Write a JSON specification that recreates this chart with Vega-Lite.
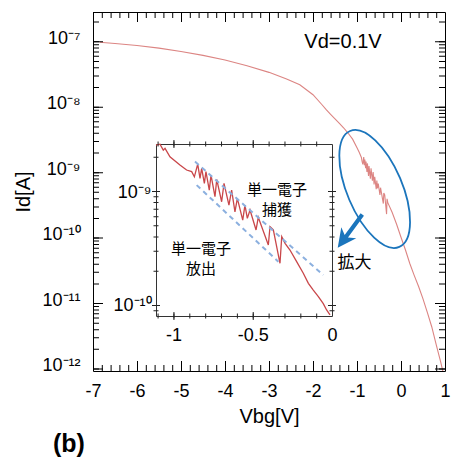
{
  "$schema": "https://vega.github.io/schema/vega-lite/v6.json",
  "width": 352,
  "height": 359,
  "autosize": {"type": "none"},
  "padding": {"left": 93, "top": 12, "right": 6, "bottom": 90},
  "background": "white",
  "config": {
    "view": {"stroke": null},
    "axis": {"domainColor": "#000", "labelColor": "#000", "titleColor": "#000", "labelFont": "Liberation Sans", "titleFont": "Liberation Sans", "titleFontWeight": "normal", "grid": false, "labelOverlap": false, "labelFlush": false, "labelBound": false, "domainWidth": 1}
  },
  "title": {"text": "(b)", "orient": "bottom", "anchor": "start", "frame": "group", "fontSize": 25, "fontWeight": "bold", "font": "Liberation Sans", "color": "#000", "dx": -40, "offset": 6},
  "datasets": {
    "main": [
      {"Vbg": -6.85, "Id": 1.0e-7}, {"Vbg": -6.5, "Id": 9.55e-8}, {"Vbg": -6.0, "Id": 8.91e-8}, {"Vbg": -5.5, "Id": 8.13e-8},
      {"Vbg": -5.0, "Id": 7.24e-8}, {"Vbg": -4.5, "Id": 6.31e-8}, {"Vbg": -4.0, "Id": 5.37e-8}, {"Vbg": -3.5, "Id": 4.37e-8},
      {"Vbg": -3.0, "Id": 3.47e-8}, {"Vbg": -2.6, "Id": 2.75e-8}, {"Vbg": -2.3, "Id": 2.24e-8}, {"Vbg": -2.0, "Id": 1.58e-8},
      {"Vbg": -1.8, "Id": 1.12e-8}, {"Vbg": -1.7, "Id": 9.33e-9}, {"Vbg": -1.6, "Id": 7.94e-9}, {"Vbg": -1.5, "Id": 6.76e-9},
      {"Vbg": -1.4, "Id": 5.75e-9}, {"Vbg": -1.3, "Id": 4.9e-9}, {"Vbg": -1.2, "Id": 4.07e-9}, {"Vbg": -1.1, "Id": 3.31e-9},
      {"Vbg": -1.0, "Id": 2.45e-9}, {"Vbg": -0.95, "Id": 2.09e-9}, {"Vbg": -0.9, "Id": 1.74e-9},
      {"Vbg": -0.885, "Id": 1.51e-9}, {"Vbg": -0.868, "Id": 1.36e-9}, {"Vbg": -0.847, "Id": 1.76e-9}, {"Vbg": -0.8325, "Id": 1.32e-9},
      {"Vbg": -0.822, "Id": 1.61e-9}, {"Vbg": -0.805, "Id": 1.19e-9}, {"Vbg": -0.795, "Id": 1.51e-9}, {"Vbg": -0.774, "Id": 1.04e-9},
      {"Vbg": -0.763, "Id": 1.41e-9}, {"Vbg": -0.738, "Id": 9.1e-10}, {"Vbg": -0.727, "Id": 1.29e-9}, {"Vbg": -0.696, "Id": 8.22e-10},
      {"Vbg": -0.681, "Id": 1.19e-9}, {"Vbg": -0.65, "Id": 7.69e-10}, {"Vbg": -0.633, "Id": 1.04e-9}, {"Vbg": -0.612, "Id": 6.71e-10},
      {"Vbg": -0.597, "Id": 8.79e-10}, {"Vbg": -0.563, "Id": 5.68e-10}, {"Vbg": -0.549, "Id": 7.69e-10}, {"Vbg": -0.534, "Id": 5.87e-10},
      {"Vbg": -0.517, "Id": 6.95e-10}, {"Vbg": -0.479, "Id": 4.65e-10}, {"Vbg": -0.465, "Id": 6.0e-10}, {"Vbg": -0.4015, "Id": 3.43e-10},
      {"Vbg": -0.391, "Id": 4.97e-10}, {"Vbg": -0.37, "Id": 4.65e-10}, {"Vbg": -0.328, "Id": 2.37e-10}, {"Vbg": -0.317, "Id": 4.06e-10},
      {"Vbg": -0.3, "Id": 3.55e-10}, {"Vbg": -0.2, "Id": 2.51e-10}, {"Vbg": -0.1, "Id": 1.66e-10}, {"Vbg": 0.0, "Id": 1.05e-10},
      {"Vbg": 0.1, "Id": 6.76e-11}, {"Vbg": 0.2, "Id": 4.17e-11}, {"Vbg": 0.3, "Id": 2.75e-11}, {"Vbg": 0.4, "Id": 1.86e-11},
      {"Vbg": 0.5, "Id": 1.2e-11}, {"Vbg": 0.6, "Id": 7.41e-12}, {"Vbg": 0.7, "Id": 4.47e-12}, {"Vbg": 0.8, "Id": 2.4e-12},
      {"Vbg": 0.9, "Id": 1.32e-12}, {"Vbg": 0.96, "Id": 8.9e-13}
    ],
    "inset": [
      {"Vbg": -1.11, "Id": 2.58e-9}, {"Vbg": -1.085, "Id": 2.63e-9}, {"Vbg": -1.064, "Id": 2.33e-9}, {"Vbg": -1.053, "Id": 2.42e-9},
      {"Vbg": -1.022, "Id": 2.04e-9}, {"Vbg": -0.959, "Id": 1.73e-9}, {"Vbg": -0.917, "Id": 1.56e-9}, {"Vbg": -0.885, "Id": 1.51e-9},
      {"Vbg": -0.868, "Id": 1.36e-9}, {"Vbg": -0.847, "Id": 1.76e-9}, {"Vbg": -0.8325, "Id": 1.32e-9}, {"Vbg": -0.822, "Id": 1.61e-9},
      {"Vbg": -0.805, "Id": 1.19e-9}, {"Vbg": -0.795, "Id": 1.51e-9}, {"Vbg": -0.774, "Id": 1.04e-9}, {"Vbg": -0.763, "Id": 1.41e-9},
      {"Vbg": -0.738, "Id": 9.1e-10}, {"Vbg": -0.727, "Id": 1.29e-9}, {"Vbg": -0.696, "Id": 8.22e-10}, {"Vbg": -0.681, "Id": 1.19e-9},
      {"Vbg": -0.65, "Id": 7.69e-10}, {"Vbg": -0.633, "Id": 1.04e-9}, {"Vbg": -0.612, "Id": 6.71e-10}, {"Vbg": -0.597, "Id": 8.79e-10},
      {"Vbg": -0.563, "Id": 5.68e-10}, {"Vbg": -0.549, "Id": 7.69e-10}, {"Vbg": -0.534, "Id": 5.87e-10}, {"Vbg": -0.517, "Id": 6.95e-10},
      {"Vbg": -0.479, "Id": 4.65e-10}, {"Vbg": -0.465, "Id": 6.0e-10}, {"Vbg": -0.4015, "Id": 3.43e-10}, {"Vbg": -0.391, "Id": 4.97e-10},
      {"Vbg": -0.37, "Id": 4.65e-10}, {"Vbg": -0.328, "Id": 2.37e-10}, {"Vbg": -0.317, "Id": 4.06e-10}, {"Vbg": -0.296, "Id": 3.55e-10},
      {"Vbg": -0.265, "Id": 3.1e-10}, {"Vbg": -0.223, "Id": 2.45e-10}, {"Vbg": -0.181, "Id": 1.94e-10}, {"Vbg": -0.149, "Id": 1.58e-10},
      {"Vbg": -0.118, "Id": 1.38e-10}, {"Vbg": -0.086, "Id": 1.21e-10}, {"Vbg": -0.055, "Id": 1.05e-10}, {"Vbg": -0.034, "Id": 9.23e-11},
      {"Vbg": -0.0125, "Id": 8.34e-11}
    ],
    "dashUp": [{"Vbg": -0.864, "Id": 1.85e-9}, {"Vbg": -0.055, "Id": 1.87e-10}],
    "dashLo": [{"Vbg": -0.8535, "Id": 1.15e-9}, {"Vbg": -0.3385, "Id": 2.45e-10}],
    "vd": [{"Vbg": -1.318, "Id": 9.93e-8, "t": "Vd=0.1V"}],
    "kakudai": [{"Vbg": -1.057, "Id": 4.18e-11, "t": "拡大"}],
    "ell": [{"Vbg": -0.598, "Id": 5.74e-10}],
    "arrow": [{"Vbg": -1.159, "Id": 1.3e-10}],
    "textCap": [{"Vbg": -0.347, "Id": 1.05e-9, "t": "単一電子\n捕獲"}],
    "textEmi": [{"Vbg": -0.826, "Id": 3.18e-10, "t": "単一電子\n放出"}]
  },
  "layer": [
    {
      "layer": [
        {
          "data": {"name": "main"},
          "mark": {"type": "line", "color": "#dc8583", "strokeWidth": 1.1, "clip": true},
          "encoding": {
            "x": {"field": "Vbg", "type": "quantitative", "scale": {"domain": [-7, 1], "nice": false, "zero": false},
              "axis": {"orient": "bottom", "values": [-7,-6,-5,-4,-3,-2,-1,0,1], "ticks": false,
                "labelExpr": "'' + round(datum.value)",
                "labelFontSize": 18, "labelPadding": 11, "title": "Vbg[V]", "titleFontSize": 20, "titlePadding": 6}},
            "y": {"field": "Id", "type": "quantitative", "scale": {"type": "log", "domain": [9.5e-13, 2.9e-7], "nice": false},
              "axis": {"orient": "left", "values": [1e-12,1e-11,1e-10,1e-9,1e-8,1e-7], "ticks": false,
                "labelExpr": "['10⁻¹²','10⁻¹¹','10⁻¹⁰','10⁻⁹','10⁻⁸','10⁻⁷'][round(log(datum.value)/LN10) + 12]",
                "labelFontSize": 18, "labelPadding": 13, "labelOffset": -4, "title": "Id[A]", "titleFontSize": 20, "titlePadding": 8}}
          }
        },
        {
          "data": {"name": "vd"},
          "mark": {"type": "text", "fontSize": 20, "font": "Liberation Sans", "color": "#000", "align": "center", "baseline": "middle"},
          "encoding": {
            "x": {"field": "Vbg", "type": "quantitative", "axis": {"orient": "top", "labels": false, "ticks": false, "domain": true, "title": null}},
            "y": {"field": "Id", "type": "quantitative", "axis": {"orient": "right", "labels": false, "ticks": false, "domain": true, "title": null}},
            "text": {"field": "t"}
          }
        },
        {
          "data": {"name": "kakudai"},
          "mark": {"type": "text", "fontSize": 17, "font": "Noto Sans CJK JP", "color": "#000", "align": "center", "baseline": "middle"},
          "encoding": {
            "x": {"field": "Vbg", "type": "quantitative", "axis": null},
            "y": {"field": "Id", "type": "quantitative", "axis": null},
            "text": {"field": "t"}
          }
        },
        {
          "data": {"name": "ell"},
          "mark": {"type": "point", "shape": "M0,-1C0.242,-1,0.438,-0.552,0.438,0C0.438,0.552,0.242,1,0,1C-0.242,1,-0.438,0.552,-0.438,0C-0.438,-0.552,-0.242,-1,0,-1Z", "size": 15876, "angle": -23, "filled": false, "color": "#1b75bc", "strokeWidth": 1.8, "opacity": 1},
          "encoding": {
            "x": {"field": "Vbg", "type": "quantitative", "axis": null},
            "y": {"field": "Id", "type": "quantitative", "axis": null}
          }
        },
        {
          "data": {"name": "arrow"},
          "mark": {"type": "point", "shape": "M0,-1L0.45,-0.1L0.1,-0.3L0.1,1L-0.1,1L-0.1,-0.3L-0.45,-0.1Z", "size": 1706, "angle": 216.5, "filled": true, "color": "#1b75bc", "strokeWidth": 0, "opacity": 1},
          "encoding": {
            "x": {"field": "Vbg", "type": "quantitative", "axis": null},
            "y": {"field": "Id", "type": "quantitative", "axis": null}
          }
        },
        {
          "data": {"values": [{"Vbg": -7, "Id": 9.5e-13, "edge": "b"}, {"Vbg": 1, "Id": 9.5e-13, "edge": "b"}, {"Vbg": -7, "Id": 2.9e-7, "edge": "t"}, {"Vbg": 1, "Id": 2.9e-7, "edge": "t"}]},
          "mark": {"type": "line", "color": "#000", "strokeWidth": 20, "strokeDash": [1, 43], "strokeCap": "butt", "clip": true},
          "encoding": {
            "x": {"field": "Vbg", "type": "quantitative", "axis": null},
            "y": {"field": "Id", "type": "quantitative", "axis": null},
            "detail": {"field": "edge"}
          }
        },
        {
          "data": {"values": [{"Vbg": -7, "Id": 9.5e-13, "edge": "b"}, {"Vbg": 1, "Id": 9.5e-13, "edge": "b"}, {"Vbg": -7, "Id": 2.9e-7, "edge": "t"}, {"Vbg": 1, "Id": 2.9e-7, "edge": "t"}]},
          "mark": {"type": "line", "color": "#000", "strokeWidth": 12, "strokeDash": [1, 7.8], "strokeCap": "butt", "clip": true},
          "encoding": {
            "x": {"field": "Vbg", "type": "quantitative", "axis": null},
            "y": {"field": "Id", "type": "quantitative", "axis": null},
            "detail": {"field": "edge"}
          }
        },
        {
          "data": {"values": [{"Vbg": -7, "Id": 1e-12, "edge": "l"}, {"Vbg": -7, "Id": 2.9e-7, "edge": "l"}, {"Vbg": 1, "Id": 1e-12, "edge": "r"}, {"Vbg": 1, "Id": 2.9e-7, "edge": "r"}]},
          "mark": {"type": "line", "color": "#000", "strokeWidth": 20, "strokeDash": [1, 64.46], "strokeCap": "butt", "clip": true},
          "encoding": {
            "x": {"field": "Vbg", "type": "quantitative", "axis": null},
            "y": {"field": "Id", "type": "quantitative", "axis": null},
            "detail": {"field": "edge"},
            "order": {"field": "Id", "type": "quantitative"}
          }
        },
        {
          "data": {"values": [{"Vbg": -7, "Id": 1e-12, "edge": "l"}, {"Vbg": -7, "Id": 2.9e-7, "edge": "l"}, {"Vbg": 1, "Id": 1e-12, "edge": "r"}, {"Vbg": 1, "Id": 2.9e-7, "edge": "r"}]},
          "mark": {"type": "line", "color": "#000", "strokeWidth": 12, "strokeDash": [1, 18.7, 1, 10.53, 1, 7.18, 1, 5.34, 1, 4.18, 1, 3.39, 1, 2.8, 1, 2.34, 1, 2.0], "strokeCap": "butt", "clip": true},
          "encoding": {
            "x": {"field": "Vbg", "type": "quantitative", "axis": null},
            "y": {"field": "Id", "type": "quantitative", "axis": null},
            "detail": {"field": "edge"},
            "order": {"field": "Id", "type": "quantitative"}
          }
        }
      ],
      "resolve": {"axis": {"x": "independent", "y": "independent"}}
    },
    {
      "layer": [
        {
          "data": {"name": "inset"},
          "mark": {"type": "line", "color": "#c9474a", "strokeWidth": 1.3},
          "encoding": {
            "x": {"field": "Vbg", "type": "quantitative", "scale": {"domain": [-1.11, 0], "range": [63, 239], "nice": false, "zero": false},
              "axis": {"orient": "bottom", "offset": -55, "values": [-1, -0.5, 0], "ticks": false,
                "labelExpr": "datum.value == 0 ? '0' : datum.value == -1 ? '-1' : '-0.5'",
                "labelFontSize": 18, "labelPadding": 10, "title": null, "domainColor": "#333"}},
            "y": {"field": "Id", "type": "quantitative", "scale": {"type": "log", "domain": [8.17e-11, 2.64e-9], "range": [304, 132], "nice": false},
              "axis": {"orient": "left", "offset": -63, "values": [1e-10, 1e-9], "ticks": false,
                "labelExpr": "['10⁻¹²','10⁻¹¹','10⁻¹⁰','10⁻⁹','10⁻⁸','10⁻⁷'][round(log(datum.value)/LN10) + 12]",
                "labelFontSize": 18, "labelPadding": 5, "title": null, "domainColor": "#333"}}
          }
        },
        {
          "data": {"name": "dashUp"},
          "mark": {"type": "line", "color": "#8cb0df", "strokeWidth": 2, "strokeDash": [5, 4]},
          "encoding": {
            "x": {"field": "Vbg", "type": "quantitative", "axis": {"orient": "top", "offset": -132, "labels": false, "ticks": false, "domain": true, "title": null, "domainColor": "#333"}},
            "y": {"field": "Id", "type": "quantitative", "axis": {"orient": "right", "offset": -113, "labels": false, "ticks": false, "domain": true, "title": null, "domainColor": "#333"}}
          }
        },
        {
          "data": {"name": "dashLo"},
          "mark": {"type": "line", "color": "#8cb0df", "strokeWidth": 2, "strokeDash": [5, 4]},
          "encoding": {
            "x": {"field": "Vbg", "type": "quantitative", "axis": null},
            "y": {"field": "Id", "type": "quantitative", "axis": null}
          }
        },
        {
          "data": {"name": "textCap"},
          "mark": {"type": "text", "fontSize": 15, "font": "Noto Sans CJK JP", "color": "#000", "align": "center", "baseline": "middle", "lineBreak": "\n", "lineHeight": 20},
          "encoding": {
            "x": {"field": "Vbg", "type": "quantitative", "axis": null},
            "y": {"field": "Id", "type": "quantitative", "axis": null},
            "text": {"field": "t"}
          }
        },
        {
          "data": {"name": "textEmi"},
          "mark": {"type": "text", "fontSize": 15, "font": "Noto Sans CJK JP", "color": "#000", "align": "center", "baseline": "middle", "lineBreak": "\n", "lineHeight": 20},
          "encoding": {
            "x": {"field": "Vbg", "type": "quantitative", "axis": null},
            "y": {"field": "Id", "type": "quantitative", "axis": null},
            "text": {"field": "t"}
          }
        },
        {
          "data": {"values": [{"Vbg": -1, "Id": 8.17e-11, "edge": "b"}, {"Vbg": 0, "Id": 8.17e-11, "edge": "b"}, {"Vbg": -1, "Id": 2.64e-9, "edge": "t"}, {"Vbg": 0, "Id": 2.64e-9, "edge": "t"}]},
          "mark": {"type": "line", "color": "#222", "strokeWidth": 8, "strokeDash": [1, 78.28], "strokeCap": "butt"},
          "encoding": {
            "x": {"field": "Vbg", "type": "quantitative", "axis": null},
            "y": {"field": "Id", "type": "quantitative", "axis": null},
            "detail": {"field": "edge"}
          }
        },
        {
          "data": {"values": [{"Vbg": -1.1, "Id": 8.17e-11, "edge": "b"}, {"Vbg": 0, "Id": 8.17e-11, "edge": "b"}, {"Vbg": -1.1, "Id": 2.64e-9, "edge": "t"}, {"Vbg": 0, "Id": 2.64e-9, "edge": "t"}]},
          "mark": {"type": "line", "color": "#222", "strokeWidth": 5, "strokeDash": [1, 14.86], "strokeCap": "butt"},
          "encoding": {
            "x": {"field": "Vbg", "type": "quantitative", "axis": null},
            "y": {"field": "Id", "type": "quantitative", "axis": null},
            "detail": {"field": "edge"}
          }
        },
        {
          "data": {"values": [{"Vbg": -1.11, "Id": 1e-10, "edge": "l"}, {"Vbg": -1.11, "Id": 2.64e-9, "edge": "l"}, {"Vbg": 0, "Id": 1e-10, "edge": "r"}, {"Vbg": 0, "Id": 2.64e-9, "edge": "r"}]},
          "mark": {"type": "line", "color": "#222", "strokeWidth": 8, "strokeDash": [1, 112.95, 1, 200], "strokeCap": "butt"},
          "encoding": {
            "x": {"field": "Vbg", "type": "quantitative", "axis": null},
            "y": {"field": "Id", "type": "quantitative", "axis": null},
            "detail": {"field": "edge"},
            "order": {"field": "Id", "type": "quantitative"}
          }
        },
        {
          "data": {"values": [{"Vbg": -1.11, "Id": 9e-11, "edge": "l"}, {"Vbg": -1.11, "Id": 2.64e-9, "edge": "l"}, {"Vbg": 0, "Id": 9e-11, "edge": "r"}, {"Vbg": 0, "Id": 2.64e-9, "edge": "r"}]},
          "mark": {"type": "line", "color": "#222", "strokeWidth": 5, "strokeDash": [1, 4.21, 1, 33.3, 1, 19.07, 1, 13.23, 1, 10.05, 1, 8.02, 1, 6.63, 1, 5.6, 1, 4.83, 1, 4.22, 1, 33.3, 1, 100], "strokeCap": "butt"},
          "encoding": {
            "x": {"field": "Vbg", "type": "quantitative", "axis": null},
            "y": {"field": "Id", "type": "quantitative", "axis": null},
            "detail": {"field": "edge"},
            "order": {"field": "Id", "type": "quantitative"}
          }
        }
      ],
      "resolve": {"axis": {"x": "independent", "y": "independent"}}
    }
  ],
  "resolve": {"scale": {"x": "independent", "y": "independent"}}
}
